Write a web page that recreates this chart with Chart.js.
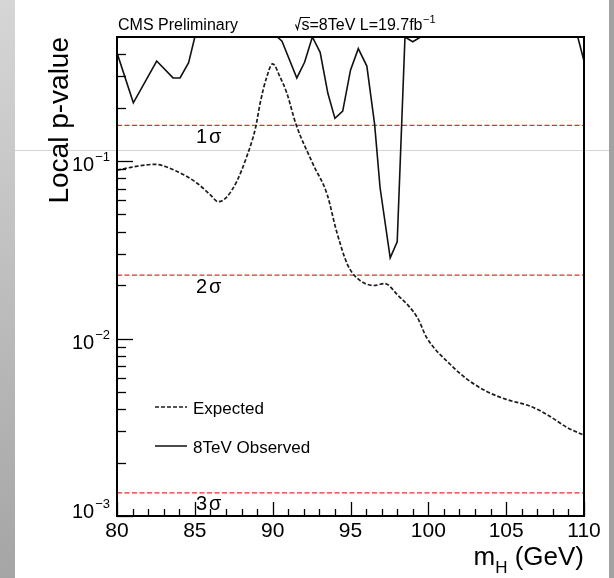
<!DOCTYPE html>
<html>
<head>
<meta charset="utf-8">
<title>Local p-value</title>
<script src="https://cdn.jsdelivr.net/npm/chart.js@4.4.1/dist/chart.umd.min.js"></script>
<style>
  html, body { margin: 0; padding: 0; background: #fff; }
  #wrap { position: relative; width: 614px; height: 578px; overflow: hidden; background: #fff; }
  #edgeL { position: absolute; left: 0; top: 0; width: 15px; height: 578px; background: linear-gradient(#d6d6d6, #a5a5a5); }
  #edgeR { position: absolute; right: 0; top: 0; width: 5px; height: 578px; background: #a2a2a2; }
  #rule { position: absolute; left: 15px; right: 5px; top: 150px; height: 1px; background: rgba(0, 0, 0, 0.16); }
  #plot { position: absolute; left: 0; top: 0; }
</style>
</head>
<body>
<div id="wrap">
  <div id="edgeL"></div>
  <div id="edgeR"></div>
  <canvas id="plot" width="614" height="578"></canvas>
  <div id="rule"></div>
</div>
<script>
// expected local p-value vs Higgs mass
const expMass = [80.0, 81.0, 82.4, 83.8, 85.1, 86.0, 86.5, 87.0, 87.7, 88.3,
                 88.9, 89.2, 89.6, 90.0, 90.5, 90.9, 91.5, 92.6, 93.5, 94.1,
                 94.8, 95.4, 96.5, 97.2, 98.0, 99.3, 99.9, 101.4, 102.5, 103.7,
                 105.0, 106.5, 107.6, 108.9, 110.0];
const expP = [0.0887, 0.0925, 0.0958, 0.0879, 0.0755, 0.0645, 0.059, 0.062, 0.077, 0.104,
              0.154, 0.213, 0.294, 0.353, 0.294, 0.243, 0.161, 0.0958, 0.0649, 0.0403,
              0.0262, 0.022, 0.0199, 0.0204, 0.0177, 0.0131, 0.0101, 0.00716, 0.00589, 0.00506,
              0.00454, 0.00417, 0.00374, 0.00316, 0.00285];

// observed 8 TeV local p-value (values at 0.5 sit on the frame top)
const obsMass = [80.0, 81.05, 82.55, 83.6, 84.05, 84.6, 85.0, 90.3, 90.6, 91.55,
                 92.05, 92.55, 93.05, 93.55, 94.0, 94.5, 95.0, 95.5, 96.05, 96.55,
                 96.9, 97.55, 98.0, 98.5, 99.0, 99.5, 109.6, 110.0];
const obsP = [0.407, 0.213, 0.366, 0.294, 0.294, 0.358, 0.5, 0.5, 0.474, 0.294,
              0.36, 0.5, 0.41, 0.24, 0.174, 0.191, 0.325, 0.43, 0.343, 0.161,
              0.0707, 0.0285, 0.0351, 0.5, 0.47, 0.5, 0.5, 0.366];

// one-sided gaussian significance levels
const sigmaNames = ['1', '2', '3'];
const sigmaP = [0.1587, 0.02275, 0.00135];

const xRange = [80, 110];
const yRange = [0.001, 0.5];
const xTickLabels = [80, 85, 90, 95, 100, 105, 110];
const yDecades = [-3, -2, -1];

const FONT = "'Liberation Sans', Arial, Helvetica, sans-serif";

function pts(xs, ys) {
    return xs.map((v, i) => ({ x: v, y: ys[i] }));
}

let datasets = [
    {
        label: 'Expected',
        data: pts(expMass, expP),
        borderColor: '#1c1c1c',
        borderWidth: 1.7,
        borderDash: [4, 2],
        cubicInterpolationMode: 'monotone',
        pointRadius: 0
    },
    {
        label: '8TeV Observed',
        data: pts(obsMass, obsP),
        borderColor: '#111',
        borderWidth: 1.6,
        tension: 0,
        pointRadius: 0
    }
];
sigmaP.forEach((p, i) => {
    datasets.push({
        label: sigmaNames[i] + 'σ',
        data: pts(xRange, [p, p]),
        borderColor: '#ee2a2a',
        borderWidth: 1.3,
        borderDash: [5, 2.5],
        pointRadius: 0
    });
});

function line(ctx, x1, y1, x2, y2) {
    ctx.beginPath();
    ctx.moveTo(x1, y1);
    ctx.lineTo(x2, y2);
    ctx.stroke();
}

const decor = {
    id: 'decor',
    afterDraw(chart) {
        const ctx = chart.ctx;
        const a = chart.chartArea;
        const xs = chart.scales.x, ys = chart.scales.y;
        ctx.save();
        ctx.fillStyle = '#000';
        ctx.strokeStyle = '#000';

        // frame
        ctx.lineWidth = 2;
        ctx.strokeRect(a.left, a.top, a.right - a.left, a.bottom - a.top);

        // x ticks, pointing into the frame
        ctx.lineWidth = 1.3;
        for (let m = xRange[0]; m <= xRange[1]; m++) {
            const px = Math.round(xs.getPixelForValue(m)) + 0.5;
            const len = m % 5 === 0 ? 14 : 7;
            line(ctx, px, a.bottom, px, a.bottom - len);
        }
        // log y ticks
        yDecades.forEach(d => {
            for (let k = 1; k <= 9; k++) {
                const v = k * Math.pow(10, d);
                if (v >= yRange[1]) break;
                const py = Math.round(ys.getPixelForValue(v)) + 0.5;
                line(ctx, a.left, py, a.left + (k === 1 ? 16 : 9), py);
            }
        });

        // x tick labels
        ctx.font = '21px ' + FONT;
        ctx.textAlign = 'center';
        ctx.textBaseline = 'alphabetic';
        xTickLabels.forEach(m => {
            ctx.fillText(String(m), xs.getPixelForValue(m), a.bottom + 21);
        });

        // y tick labels 10^d
        yDecades.forEach((d, i) => {
            const py = ys.getPixelForValue(Math.pow(10, d));
            const base = py + (i === 0 ? 2 : 10);
            const sup = '\u2212' + Math.abs(d);
            ctx.font = '13px ' + FONT;
            const sw = ctx.measureText(sup).width;
            ctx.textAlign = 'left';
            ctx.fillText(sup, a.left - 7 - sw, base - 10);
            ctx.font = '20px ' + FONT;
            const tw = ctx.measureText('10').width;
            ctx.fillText('10', a.left - 8 - sw - tw, base);
        });

        // axis titles
        ctx.save();
        ctx.font = '28px ' + FONT;
        ctx.translate(68, a.top);
        ctx.rotate(-Math.PI / 2);
        ctx.textAlign = 'right';
        ctx.fillText('Local p-value', 0, 0);
        ctx.restore();

        ctx.textAlign = 'left';
        ctx.font = '26px ' + FONT;
        const wm = ctx.measureText('m').width;
        const wg = ctx.measureText(' (GeV)').width;
        ctx.font = '17px ' + FONT;
        const wh = ctx.measureText('H').width;
        let tx = a.right - wm - wh - wg;
        const tb = 565;
        ctx.font = '26px ' + FONT;
        ctx.fillText('m', tx, tb);
        ctx.font = '17px ' + FONT;
        ctx.fillText('H', tx + wm, tb + 8);
        ctx.font = '26px ' + FONT;
        ctx.fillText(' (GeV)', tx + wm + wh, tb);

        // header
        ctx.font = '16px ' + FONT;
        ctx.fillText('CMS Preliminary', a.left + 1, 29.5);
        const hx = 296;
        ctx.lineWidth = 1.1;
        const sw = ctx.measureText('s').width;
        ctx.beginPath();
        ctx.moveTo(hx - 0.5, 24.5);
        ctx.lineTo(hx + 1.5, 29.5);
        ctx.lineTo(hx + 4.5, 17.5);
        ctx.lineTo(hx + 6 + sw, 17.5);
        ctx.stroke();
        const rest = 's=8TeV L=19.7fb';
        ctx.fillText(rest, hx + 5.5, 29.5);
        const rw = ctx.measureText(rest).width;
        ctx.font = '11px ' + FONT;
        ctx.fillText('\u22121', hx + 6 + rw, 23);

        // sigma labels under each line
        ctx.font = '20px ' + FONT;
        sigmaP.forEach((p, i) => {
            const py = ys.getPixelForValue(p);
            const n = sigmaNames[i];
            ctx.fillText(n, 196, py + 17.5);
            const nw = ctx.measureText(n).width;
            ctx.fillText('σ', 196 + nw + 2, py + 17.5);
        });

        // legend
        const items = [
            { ds: chart.data.datasets[0], y: 407 },
            { ds: chart.data.datasets[1], y: 446 }
        ];
        ctx.font = '17px ' + FONT;
        items.forEach(it => {
            ctx.strokeStyle = it.ds.borderColor;
            ctx.lineWidth = 1.5;
            ctx.setLineDash(it.ds.borderDash || []);
            line(ctx, 155, it.y, 187, it.y);
            ctx.setLineDash([]);
            ctx.fillText(it.ds.label, 193, it.y + 6.5);
        });

        ctx.restore();
    }
};

new Chart(document.getElementById('plot'), {
    type: 'line',
    data: { datasets: datasets },
    options: {
        responsive: false,
        animation: false,
        devicePixelRatio: 1,
        layout: { padding: { left: 117, top: 37, right: 30, bottom: 62 } },
        scales: {
            x: { type: 'linear', min: xRange[0], max: xRange[1], display: false },
            y: { type: 'logarithmic', min: yRange[0], max: yRange[1], display: false }
        },
        plugins: {
            legend: { display: false },
            tooltip: { enabled: false }
        }
    },
    plugins: [decor]
});
</script>
</body>
</html>
